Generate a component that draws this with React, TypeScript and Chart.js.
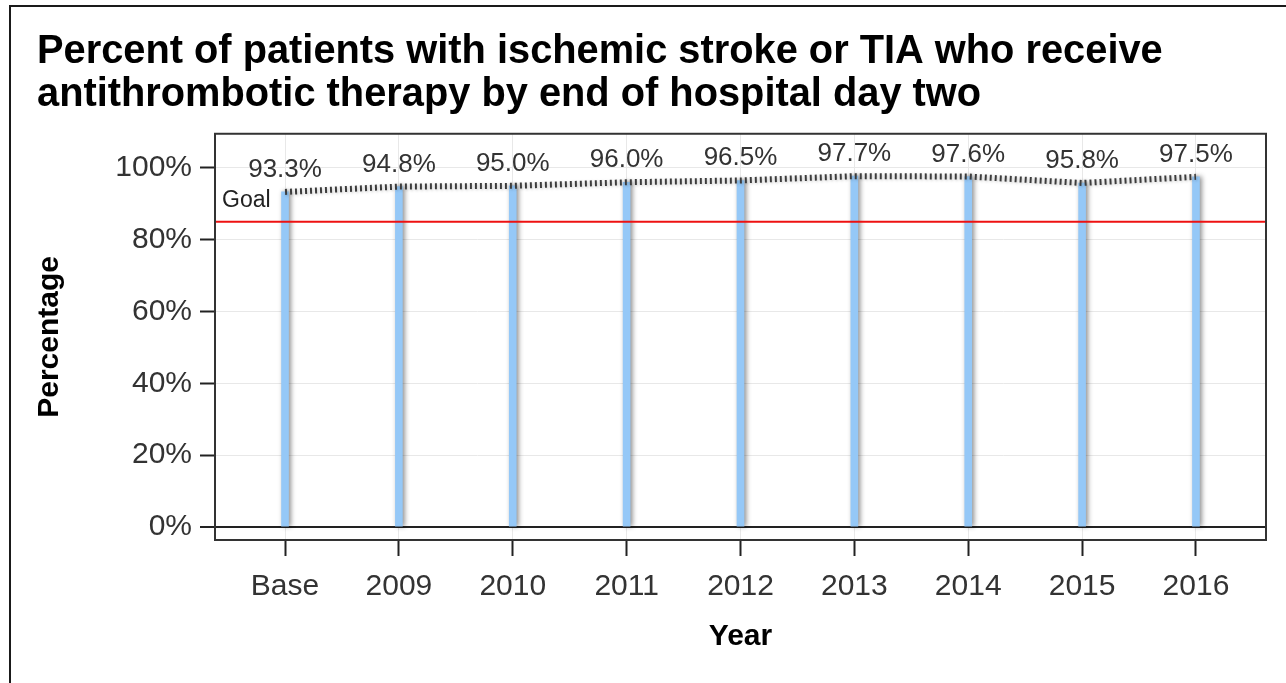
import React, { useEffect, useRef } from "react";
import { Chart, registerables } from "chart.js";

Chart.register(...registerables);

const categories = ["Base", "2009", "2010", "2011", "2012", "2013", "2014", "2015", "2016"];
const percentValues = [93.3, 94.8, 95.0, 96.0, 96.5, 97.7, 97.6, 95.8, 97.5];
const goalValue = 85;
const goalLabel = "Goal";
const yTickValues = [0, 20, 40, 60, 80, 100];
const titleLines = [
  "Percent of patients with ischemic stroke or TIA who receive",
  "antithrombotic therapy by end of hospital day two",
];
const xAxisTitle = "Year";
const yAxisTitle = "Percentage";

const FONT = "'Liberation Sans', Arial, Helvetica, sans-serif";

export default function App() {
  const ref = useRef<HTMLCanvasElement>(null);

  useEffect(() => {
    const canvas = ref.current;
    if (!canvas) return;
    const xMin = -0.615;
    const xMax = categories.length - 1 + 0.615;
    const points = percentValues.map((v, i) => ({ x: i, y: v }));

    const shadowPlugin = {
      id: "barShadow",
      beforeDatasetDraw(chart: any, args: any) {
        const ctx = chart.ctx;
        ctx.save();
        if (args.meta.type === "bar") {
          ctx.shadowColor = "rgba(0,0,0,0.45)";
          ctx.shadowBlur = 5;
          ctx.shadowOffsetX = 2;
          ctx.shadowOffsetY = 0;
        } else {
          ctx.shadowColor = "rgba(0,0,0,0.25)";
          ctx.shadowBlur = 3;
          ctx.shadowOffsetX = 1;
          ctx.shadowOffsetY = 1;
        }
      },
      afterDatasetDraw(chart: any) {
        chart.ctx.restore();
      },
    };

    const decorPlugin = {
      id: "decor",
      afterDatasetsDraw(chart: any) {
        const ctx = chart.ctx;
        const { left, right } = chart.chartArea;
        const ys = chart.scales.y;
        const xs = chart.scales.x;
        const gy = ys.getPixelForValue(goalValue);
        ctx.save();
        ctx.strokeStyle = "#ee1111";
        ctx.lineWidth = 2;
        ctx.beginPath();
        ctx.moveTo(left, gy);
        ctx.lineTo(right, gy);
        ctx.stroke();
        ctx.fillStyle = "#222";
        ctx.font = `23px ${FONT}`;
        ctx.textAlign = "left";
        ctx.textBaseline = "alphabetic";
        ctx.fillText(goalLabel, left + 7, gy - 15);
        ctx.fillStyle = "#333";
        ctx.font = `26px ${FONT}`;
        ctx.textAlign = "center";
        percentValues.forEach((v, i) => {
          const px = xs.getPixelForValue(i);
          const py = ys.getPixelForValue(v);
          ctx.fillText(`${v.toFixed(1)}%`, px, py - 15);
        });
        ctx.restore();
      },
      afterDraw(chart: any) {
        const ctx = chart.ctx;
        const { left, right, top, bottom } = chart.chartArea;
        ctx.save();
        ctx.strokeStyle = "#333";
        ctx.lineWidth = 2;
        ctx.strokeRect(left, top, right - left, bottom - top);
        ctx.restore();
      },
    };

    const chart = new Chart(canvas, {
      type: "bar",
      data: {
        datasets: [
          {
            type: "line",
            data: points,
            borderColor: "#3c3c3c",
            borderWidth: 6,
            borderDash: [2, 3],
            pointRadius: 0,
            tension: 0,
            order: 0,
          } as any,
          {
            type: "bar",
            data: points,
            backgroundColor: "#95c8f7",
            borderWidth: 0,
            barThickness: 7,
            order: 1,
          } as any,
        ],
      },
      options: {
        animation: false,
        responsive: false,
        maintainAspectRatio: false,
        layout: { padding: { left: 37, right: 20, top: 0, bottom: 0 } },
        plugins: {
          legend: { display: false },
          tooltip: { enabled: false },
          title: {
            display: true,
            align: "start",
            text: titleLines,
            color: "#000",
            font: { family: FONT, size: 39.8, weight: "bold", lineHeight: 1.09 },
            padding: { top: 30, bottom: 17 },
          },
        },
        scales: {
          x: {
            type: "linear",
            min: xMin,
            max: xMax,
            offset: false,
            afterBuildTicks: (s: any) => {
              s.ticks = categories.map((_, i) => ({ value: i }));
            },
            afterFit: (s: any) => {
              s.height = 143;
            },
            ticks: {
              callback: (v: any) => categories[v] ?? "",
              font: { family: FONT, size: 30 },
              color: "#333",
              padding: 13,
              maxRotation: 0,
              autoSkip: false,
            },
            grid: {
              offset: false,
              color: "#e8e8e8",
              lineWidth: 1,
              tickColor: "#222",
              tickLength: 16,
              tickWidth: 2,
            },
            border: { display: false },
            title: {
              display: true,
              text: xAxisTitle,
              color: "#000",
              font: { family: FONT, size: 30, weight: "bold" },
              padding: { top: 0, bottom: 28 },
            },
          } as any,
          y: {
            type: "linear",
            min: -3.6,
            max: 109.5,
            afterBuildTicks: (s: any) => {
              s.ticks = yTickValues.map((v) => ({ value: v }));
            },
            afterFit: (s: any) => {
              s.width = 178;
            },
            ticks: {
              callback: (v: any) => `${v}%`,
              font: { family: FONT, size: 30 },
              color: "#333",
              padding: 8,
            },
            grid: {
              color: (c: any) => (c.tick && c.tick.value === 0 ? "#222" : "#e8e8e8"),
              lineWidth: (c: any) => (c.tick && c.tick.value === 0 ? 2 : 1),
              tickColor: "#222",
              tickLength: 15,
              tickWidth: 2,
            },
            border: { display: false },
            title: {
              display: true,
              text: yAxisTitle,
              color: "#000",
              font: { family: FONT, size: 30, weight: "bold", lineHeight: 0.8 },
              padding: { top: 1, bottom: 0 },
            },
          } as any,
        },
      },
      plugins: [shadowPlugin, decorPlugin],
    });

    return () => chart.destroy();
  }, []);

  return (
    <div style={{ position: "fixed", left: 0, top: 0, width: 1286, height: 683, overflow: "hidden", background: "#fff" }}>
      <div
        style={{
          position: "absolute",
          left: 9,
          top: 5,
          width: 1300,
          height: 700,
          borderTop: "2px solid #1a1a1a",
          borderLeft: "2px solid #1a1a1a",
        }}
      />
      <canvas ref={ref} width={1286} height={683} style={{ position: "absolute", left: 0, top: 0 }} />
    </div>
  );
}
